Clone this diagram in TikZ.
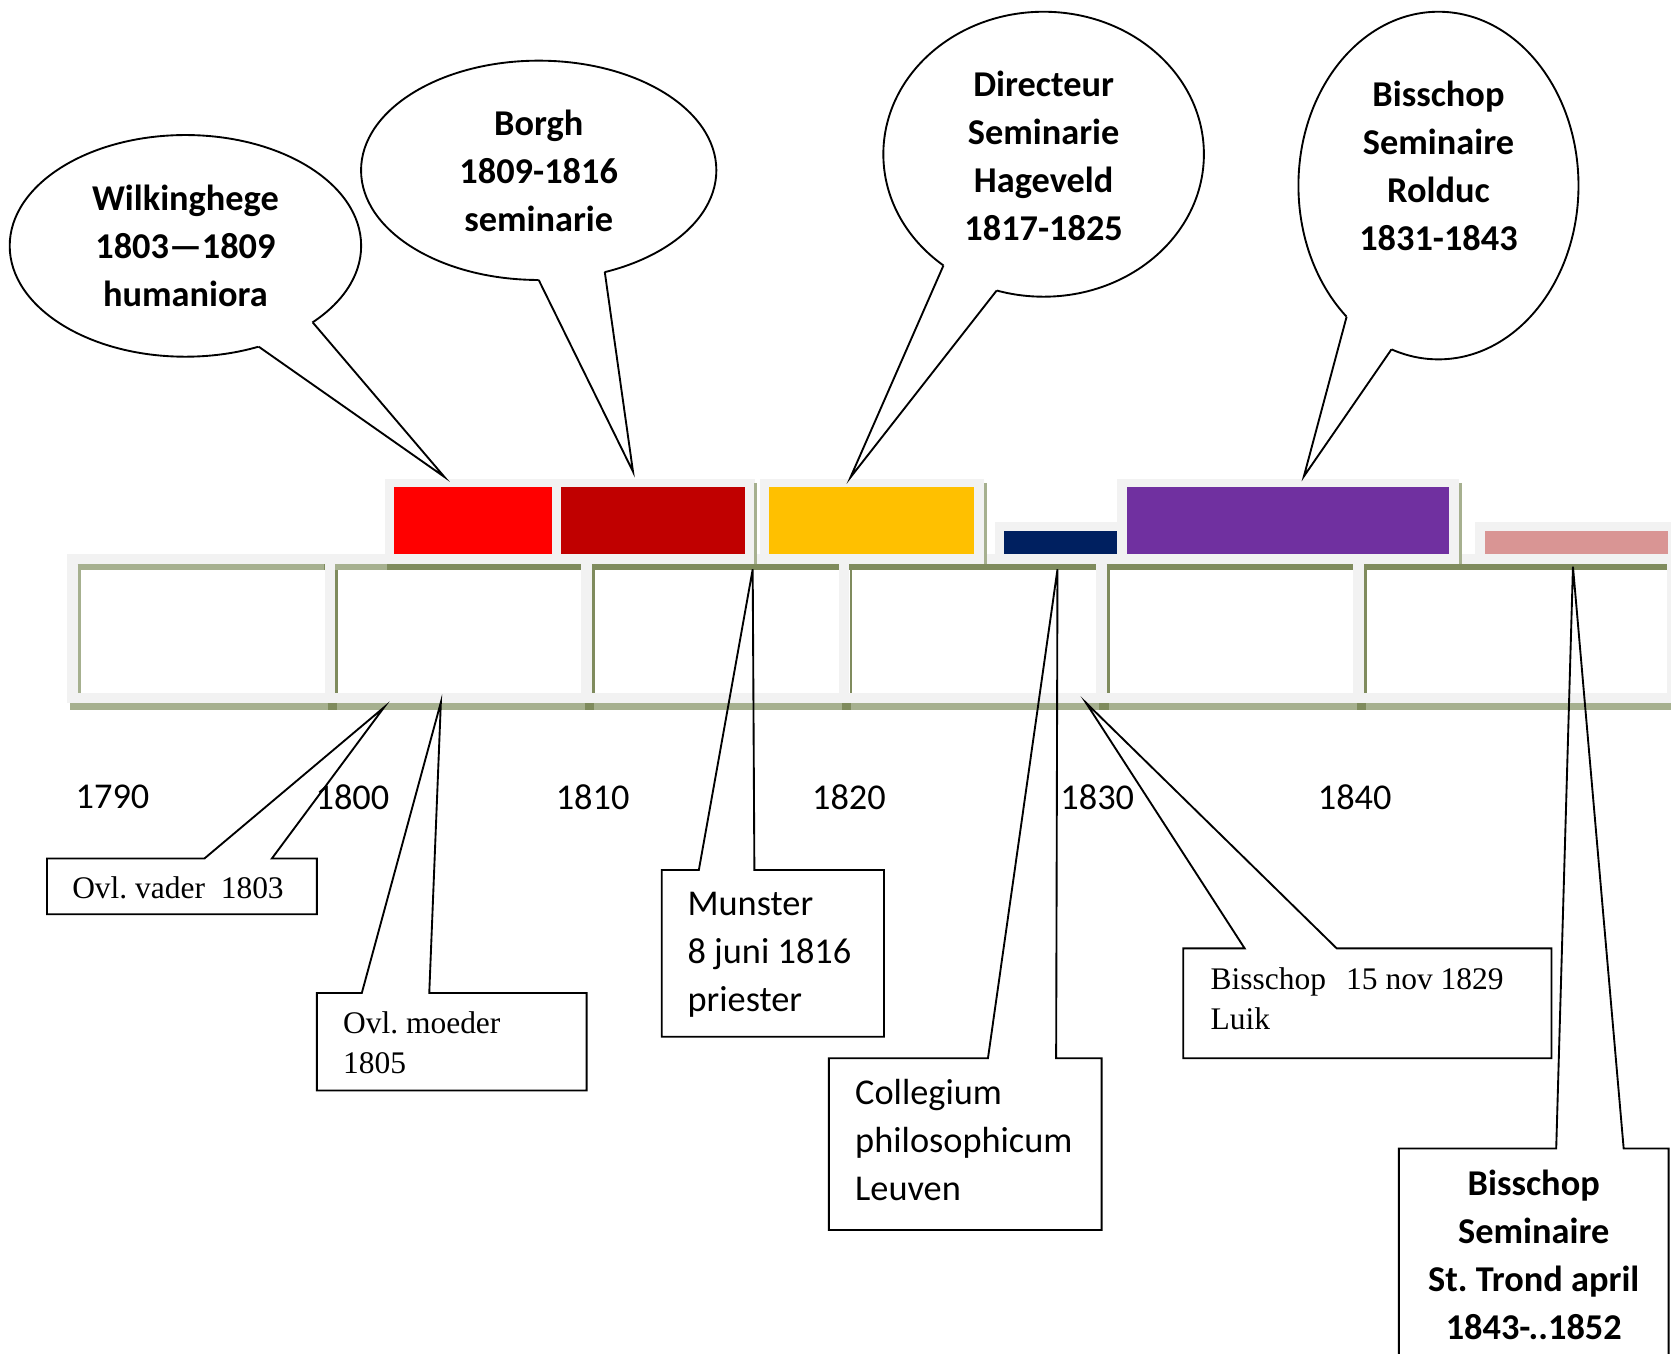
\documentclass[tikz,border=0pt]{standalone}
\usepackage{fontspec}
\setmainfont{Carlito}
\newfontfamily\boxserif{Liberation Serif}
\usetikzlibrary{shapes.geometric,calc}
\definecolor{tlgray}{RGB}{242,242,242}
\definecolor{tlolive}{RGB}{166,176,143}
\definecolor{tloliveD}{RGB}{127,139,93}
\definecolor{barred}{RGB}{255,0,0}
\definecolor{bardarkred}{RGB}{192,0,0}
\definecolor{bargold}{RGB}{255,192,0}
\definecolor{barnavy}{RGB}{0,32,96}
\definecolor{barpurple}{RGB}{112,48,160}
\definecolor{barpink}{RGB}{217,149,148}
\frenchspacing

\begin{document}
\begin{tikzpicture}[x=0.1mm, y=-0.1mm,
    bubble/.style={ellipse, draw, fill=white, line width=0.5pt, inner sep=0pt, outer sep=0pt},
    bubbletxt/.style={font=\fontsize{9.7}{12.8}\selectfont\bfseries, align=center},
    callbox/.style={fill=white, inner sep=0pt, outer sep=0pt},
    boxtxt/.style={anchor=west, inner sep=0pt, align=left, font=\fontsize{9.7}{12.8}\selectfont},
    serifboxtxt/.style={boxtxt, font=\fontsize{8.4}{10.8}\selectfont\boxserif},
    tail/.style={line width=0.5pt, line join=miter},
    year/.style={font=\fontsize{9.7}{12}\selectfont}
  ]
  \useasboundingbox (0,0) rectangle (1568,1270.5);
  \clip (0,0) rectangle (1568,1270.5);

  % Tijdlijn: vakken per decennium
  \foreach \xa/\xb in {74/315.5, 315.5/556.5, 556.5/798, 798/1039.5, 1039.5/1281, 1281/1575} {
    \draw[tlgray, line width=1mm] (\xa-6,525) rectangle (\xb-6,655);
    \draw[tloliveD, line width=0.6mm] (\xa-1,532) -- (\xb-11,532);
    \draw[tloliveD, line width=0.25mm] (\xa+0.5,535) -- (\xa+0.5,650);
  }
  \draw[tlolive, line width=0.6mm] (73,532) -- (304,532);
  \draw[tlolive, line width=0.6mm] (314.5,532) -- (363,532);
  \draw[tlolive, line width=0.25mm] (74.5,535) -- (74.5,650);
  \draw[tlolive, line width=0.65mm] (66,662.5) -- (1568,662.5);
  \foreach \xa in {315.5, 556.5, 798, 1039.5, 1281}
    \draw[tloliveD, line width=0.65mm] (\xa-8,662.5) -- (\xa+1,662.5);

  % Balken
  \fill[tlgray] (361,449) rectangle (708,529);
  \fill[tlgray] (713,449) rectangle (923.4,529);
  \fill[tlgray] (933.4,490) rectangle (1057.2,529);
  \fill[tlgray] (1048.2,449) rectangle (1368.8,529);
  \fill[tlgray] (1383.9,490) rectangle (1568,529);
  \draw[tlolive, line width=0.25mm] (709,453) -- (709,529);
  \draw[tlolive, line width=0.25mm] (924.8,453) -- (924.8,529);
  \draw[tlolive, line width=0.25mm] (1370.3,453) -- (1370.3,529);
  \fill[barred] (369.5,457.3) rectangle (517.8,520.2);
  \fill[bardarkred] (526.8,457.3) rectangle (698.7,520.2);
  \fill[bargold] (721.4,457.3) rectangle (913.8,520.2);
  \fill[barnavy] (942.4,498.3) rectangle (1048.2,520.2);
  \fill[barpurple] (1057.2,457.3) rectangle (1360.1,520.2);
  \fill[barpink] (1393,498.3) rectangle (1565,520.2);

  % Jaartallen
  \node[year] (y1790) at (105.6,747.7) {1790};
  \node[year] (y1800) at (330.7,747.7) {1800};
  \node[year] (y1810) at (556.1,747.7) {1810};
  \node[year] (y1820) at (796.6,747.7) {1820};
  \node[year] (y1830) at (1029.6,747.7) {1830};
  \node[year] (y1840) at (1271.2,747.7) {1840};

  % Punten op de tijdlijn
  \coordinate (wilktip) at (417,447.5);
  \coordinate (borghtip) at (594,442.6);
  \coordinate (dirtip) at (798,448);
  \coordinate (roltip) at (1223.5,447);
  \coordinate (vadertip) at (360.4,663.7);
  \coordinate (moedertip) at (413.7,659);
  \coordinate (munstertip) at (706.3,534.2);
  \coordinate (colltip) at (992.3,534.2);
  \coordinate (luiktip) at (1019,659.4);
  \coordinate (trondtip) at (1476,531.7);

  % Tekstballonnen
  \node[bubble, minimum width=32.98mm, minimum height=20.8mm] (wilk) at (174,230.7) {};
  \node[bubble, minimum width=33.34mm, minimum height=20.58mm] (borgh) at (505.5,159.8) {};
  \node[bubble, minimum width=30.08mm, minimum height=26.74mm] (direc) at (979.3,144.7) {};
  \node[bubble, minimum width=26.28mm, minimum height=32.62mm] (rolduc) at (1349.8,174.1) {};

  \fill[white] (wilk.-54) -- (wilktip) -- (wilk.-31) -- (wilk.center) -- cycle;
  \draw[tail] (wilk.-54) -- (wilktip) -- (wilk.-31);
  \fill[white] (borgh.-90) -- (borghtip) -- (borgh.-57) -- (borgh.center) -- cycle;
  \draw[tail] (borgh.-90) -- (borghtip) -- (borgh.-57);
  \fill[white] (direc.-132) -- (dirtip) -- (direc.-109) -- (direc.center) -- cycle;
  \draw[tail] (direc.-132) -- (dirtip) -- (direc.-109);
  \fill[white] (rolduc.-125) -- (roltip) -- (rolduc.-106) -- (rolduc.center) -- cycle;
  \draw[tail] (rolduc.-125) -- (roltip) -- (rolduc.-106);

  \node[bubbletxt] (wilktxt) at (174,230.8) {Wilkinghege\\1803—1809\\humaniora};
  \node[bubbletxt] (borghtxt) at (505.5,160.7) {Borgh\\1809-1816\\seminarie};
  \node[bubbletxt] (directxt) at (979.3,145.9) {Directeur\\Seminarie\\Hageveld\\1817-1825};
  \node[bubbletxt] (roltxt) at (1349.8,155.5) {Bisschop\\Seminaire\\Rolduc\\1831-1843};

  % Toelichtingen
  \node[callbox, minimum width=25.32mm, minimum height=5.23mm] (vader) at (170.7,831.75) {};
  \node[callbox, minimum width=25.32mm, minimum height=9.15mm] (moeder) at (423.9,977.55) {};
  \node[callbox, minimum width=20.85mm, minimum height=15.64mm] (munster) at (725.25,894.6) {};
  \node[callbox, minimum width=25.59mm, minimum height=16.12mm] (coll) at (905.75,1073.6) {};
  \node[callbox, minimum width=34.56mm, minimum height=10.31mm] (luik) at (1283.1,941.45) {};
  \node[callbox, minimum width=25.32mm, minimum height=19.93mm, align=center,
        font=\fontsize{9.7}{12.8}\selectfont\bfseries] (trond) at (1439.2,1177.35) {Bisschop\\Seminaire\\St. Trond april\\1843-..1852};

  \foreach \b/\t/\fa/\fb in {vader/vadertip/0.5833/0.8333, moeder/moedertip/0.1667/0.4167,
      munster/munstertip/0.1667/0.4167, coll/colltip/0.5833/0.8333,
      luik/luiktip/0.1667/0.4167, trond/trondtip/0.5833/0.8333}
    \draw[tail] (\b.north west) -- ($(\b.north west)!\fa!(\b.north east)$) -- (\t)
      -- ($(\b.north west)!\fb!(\b.north east)$) -- (\b.north east) -- (\b.south east)
      -- (\b.south west) -- cycle;

  \node[serifboxtxt] (vadertxt) at ($(vader.west)+(23,1)$) {Ovl. vader\ \ 1803};
  \node[serifboxtxt] (moedertxt) at ($(moeder.west)+(24,1)$) {Ovl. moeder\\1805};
  \node[boxtxt] (munstertxt) at ($(munster.west)+(23.5,1.5)$) {Munster\\8 juni 1816\\priester};
  \node[boxtxt] (colltxt) at ($(coll.west)+(24,-3.6)$) {Collegium\\philosophicum\\Leuven};
  \node[serifboxtxt] (luiktxt) at ($(luik.west)+(25,-4.5)$) {Bisschop\hspace{1.9mm}15 nov 1829\\Luik};
\end{tikzpicture}
\end{document}
